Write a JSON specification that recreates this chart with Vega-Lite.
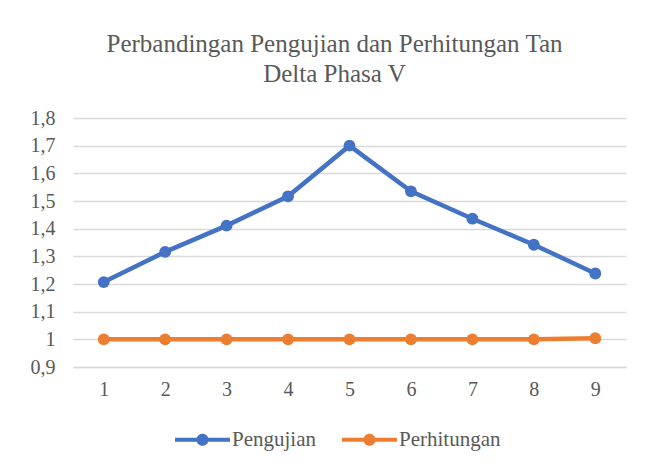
{
  "$schema": "https://vega.github.io/schema/vega-lite/v6.json",
  "width": 553,
  "height": 249,
  "autosize": "none",
  "padding": {"left": 73, "top": 118, "right": 28, "bottom": 101},
  "background": "white",
  "title": {
    "text": ["Perbandingan Pengujian dan Perhitungan Tan", "Delta Phasa V"],
    "font": "Liberation Serif",
    "fontSize": 25,
    "fontWeight": "normal",
    "color": "#595959",
    "anchor": "middle",
    "dx": -15,
    "offset": 21,
    "lineHeight": 30
  },
  "data": {
    "values": [
      {"x": "1", "series": "Pengujian", "value": 1.207},
      {"x": "2", "series": "Pengujian", "value": 1.316},
      {"x": "3", "series": "Pengujian", "value": 1.411},
      {"x": "4", "series": "Pengujian", "value": 1.517},
      {"x": "5", "series": "Pengujian", "value": 1.7},
      {"x": "6", "series": "Pengujian", "value": 1.535},
      {"x": "7", "series": "Pengujian", "value": 1.436},
      {"x": "8", "series": "Pengujian", "value": 1.342},
      {"x": "9", "series": "Pengujian", "value": 1.238},
      {"x": "1", "series": "Perhitungan", "value": 1.0},
      {"x": "2", "series": "Perhitungan", "value": 1.0},
      {"x": "3", "series": "Perhitungan", "value": 1.0},
      {"x": "4", "series": "Perhitungan", "value": 1.0},
      {"x": "5", "series": "Perhitungan", "value": 1.0},
      {"x": "6", "series": "Perhitungan", "value": 1.0},
      {"x": "7", "series": "Perhitungan", "value": 1.0},
      {"x": "8", "series": "Perhitungan", "value": 1.0},
      {"x": "9", "series": "Perhitungan", "value": 1.004}
    ]
  },
  "encoding": {
    "x": {
      "field": "x",
      "type": "ordinal",
      "title": null,
      "axis": {
        "labelAngle": 0,
        "ticks": false,
        "domainColor": "#D9D9D9",
        "domainWidth": 1.5,
        "labelFont": "Liberation Serif",
        "labelFontSize": 20,
        "labelColor": "#595959",
        "labelPadding": 12,
        "grid": false
      }
    },
    "y": {
      "field": "value",
      "type": "quantitative",
      "title": null,
      "scale": {"domain": [0.9, 1.8], "nice": false, "zero": false},
      "axis": {
        "values": [0.9, 1.0, 1.1, 1.2, 1.3, 1.4, 1.5, 1.6, 1.7, 1.8],
        "labelExpr": "replace(format(datum.value, '.1~f'), '.', ',')",
        "ticks": false,
        "domain": false,
        "gridColor": "#D9D9D9",
        "gridWidth": 1.5,
        "labelFont": "Liberation Serif",
        "labelFontSize": 20,
        "labelColor": "#595959",
        "labelPadding": 18
      }
    },
    "color": {
      "field": "series",
      "type": "nominal",
      "scale": {"domain": ["Pengujian", "Perhitungan"], "range": ["#4472C4", "#ED7D31"]},
      "legend": {
        "title": null,
        "orient": "none",
        "legendX": 102,
        "legendY": 294,
        "direction": "horizontal",
        "symbolType": "M-1,-0.075H1V0.075H-1Z M0.22,0A0.22,0.22,0,1,1,-0.22,0A0.22,0.22,0,1,1,0.22,0Z",
        "symbolSize": 3025,
        "symbolStrokeWidth": 0,
        "labelFont": "Liberation Serif",
        "labelFontSize": 21,
        "labelColor": "#595959",
        "labelOffset": 2,
        "columnPadding": 26,
        "padding": 0,
        "encode": {
          "symbols": {
            "update": {
              "fill": {"scale": "color", "field": "value"},
              "opacity": {"value": 1},
              "strokeWidth": {"value": 0}
            }
          }
        }
      }
    }
  },
  "layer": [
    {"mark": {"type": "line", "strokeWidth": 4.5}},
    {"mark": {"type": "point", "filled": true, "size": 140, "opacity": 1}}
  ],
  "config": {
    "view": {"stroke": null}
  }
}
